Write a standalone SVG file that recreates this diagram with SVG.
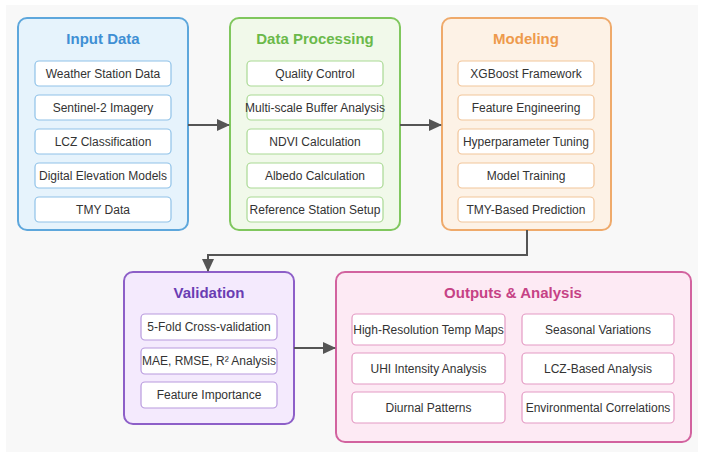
<svg xmlns="http://www.w3.org/2000/svg" width="703" height="460" viewBox="0 0 703 460">
<defs>
<marker id="arr" markerWidth="13" markerHeight="12" refX="12" refY="6" orient="auto" markerUnits="userSpaceOnUse">
<path d="M0,0 L13,6 L0,12 Z" fill="#555"/>
</marker>
</defs>
<style>
text{font-family:"Liberation Sans",Arial,sans-serif;text-anchor:middle}
.title{font-size:15px;font-weight:bold}
.item{font-size:12px;fill:#333}
.outer{stroke-width:2}
.inner{fill:#fff;stroke-width:1.2}
.blue .outer{fill:#e6f3fc;stroke:#5ea7dc}
.blue .inner{stroke:#8fc2e8}
.blue .title{fill:#3f8fd4}
.green .outer{fill:#f1f9ea;stroke:#80c75e}
.green .inner{stroke:#a9d993}
.green .title{fill:#6bb94a}
.orange .outer{fill:#fdf2e6;stroke:#efaa6b}
.orange .inner{stroke:#f2c59a}
.orange .title{fill:#ee9a4c}
.purple .outer{fill:#f4eafd;stroke:#8d5fc8}
.purple .inner{stroke:#b89ade}
.purple .title{fill:#6a3db3}
.pink .outer{fill:#fdeaf4;stroke:#d2639f}
.pink .inner{stroke:#e49ac3}
.pink .title{fill:#c64285}
.conn{fill:none;stroke:#555;stroke-width:2}
</style>
<rect x="6" y="5" width="692" height="447" fill="#f8f8f8"/>

<g id="input" class="blue">
<rect class="outer" x="18" y="18" width="170" height="212" rx="9"/>
<text class="title" x="103" y="44">Input Data</text>
<rect class="inner" x="35" y="61" width="136" height="25" rx="4"/>
<text class="item" x="103" y="77.5">Weather Station Data</text>
<rect class="inner" x="35" y="95" width="136" height="25" rx="4"/>
<text class="item" x="103" y="111.5">Sentinel-2 Imagery</text>
<rect class="inner" x="35" y="129" width="136" height="25" rx="4"/>
<text class="item" x="103" y="145.5">LCZ Classification</text>
<rect class="inner" x="35" y="163" width="136" height="25" rx="4"/>
<text class="item" x="103" y="179.5">Digital Elevation Models</text>
<rect class="inner" x="35" y="197" width="136" height="25" rx="4"/>
<text class="item" x="103" y="213.5">TMY Data</text>
</g>

<g id="processing" class="green">
<rect class="outer" x="230" y="18" width="170" height="212" rx="9"/>
<text class="title" x="315" y="44">Data Processing</text>
<rect class="inner" x="247" y="61" width="136" height="25" rx="4"/>
<text class="item" x="315" y="77.5">Quality Control</text>
<rect class="inner" x="247" y="95" width="136" height="25" rx="4"/>
<text class="item" x="315" y="111.5">Multi-scale Buffer Analysis</text>
<rect class="inner" x="247" y="129" width="136" height="25" rx="4"/>
<text class="item" x="315" y="145.5">NDVI Calculation</text>
<rect class="inner" x="247" y="163" width="136" height="25" rx="4"/>
<text class="item" x="315" y="179.5">Albedo Calculation</text>
<rect class="inner" x="247" y="197" width="136" height="25" rx="4"/>
<text class="item" x="315" y="213.5">Reference Station Setup</text>
</g>

<g id="modeling" class="orange">
<rect class="outer" x="442" y="18" width="169" height="212" rx="9"/>
<text class="title" x="526" y="44">Modeling</text>
<rect class="inner" x="458" y="61" width="136" height="25" rx="4"/>
<text class="item" x="526" y="77.5">XGBoost Framework</text>
<rect class="inner" x="458" y="95" width="136" height="25" rx="4"/>
<text class="item" x="526" y="111.5">Feature Engineering</text>
<rect class="inner" x="458" y="129" width="136" height="25" rx="4"/>
<text class="item" x="526" y="145.5">Hyperparameter Tuning</text>
<rect class="inner" x="458" y="163" width="136" height="25" rx="4"/>
<text class="item" x="526" y="179.5">Model Training</text>
<rect class="inner" x="458" y="197" width="136" height="25" rx="4"/>
<text class="item" x="526" y="213.5">TMY-Based Prediction</text>
</g>

<g id="validation" class="purple">
<rect class="outer" x="124" y="272" width="170" height="152" rx="9"/>
<text class="title" x="209" y="298">Validation</text>
<rect class="inner" x="141" y="314" width="136" height="26" rx="4"/>
<text class="item" x="209" y="331">5-Fold Cross-validation</text>
<rect class="inner" x="141" y="348" width="136" height="26" rx="4"/>
<text class="item" x="209" y="365">MAE, RMSE, R² Analysis</text>
<rect class="inner" x="141" y="382" width="136" height="26" rx="4"/>
<text class="item" x="209" y="399">Feature Importance</text>
</g>

<g id="outputs" class="pink">
<rect class="outer" x="336" y="272" width="355" height="170" rx="9"/>
<text class="title" x="513" y="298">Outputs &amp; Analysis</text>
<rect class="inner" x="352" y="314" width="153" height="31" rx="4"/>
<text class="item" x="428.5" y="333.5">High-Resolution Temp Maps</text>
<rect class="inner" x="522" y="314" width="152" height="31" rx="4"/>
<text class="item" x="598" y="333.5">Seasonal Variations</text>
<rect class="inner" x="352" y="353" width="153" height="31" rx="4"/>
<text class="item" x="428.5" y="372.5">UHI Intensity Analysis</text>
<rect class="inner" x="522" y="353" width="152" height="31" rx="4"/>
<text class="item" x="598" y="372.5">LCZ-Based Analysis</text>
<rect class="inner" x="352" y="392" width="153" height="31" rx="4"/>
<text class="item" x="428.5" y="411.5">Diurnal Patterns</text>
<rect class="inner" x="522" y="392" width="152" height="31" rx="4"/>
<text class="item" x="598" y="411.5">Environmental Correlations</text>
</g>

<g id="connectors">
<path class="conn" d="M188,125 L229,125" marker-end="url(#arr)"/>
<path class="conn" d="M400,125 L441,125" marker-end="url(#arr)"/>
<path class="conn" d="M527,230 L527,255 L208,255 L208,271" marker-end="url(#arr)"/>
<path class="conn" d="M294,348 L335,348" marker-end="url(#arr)"/>
</g>
</svg>
